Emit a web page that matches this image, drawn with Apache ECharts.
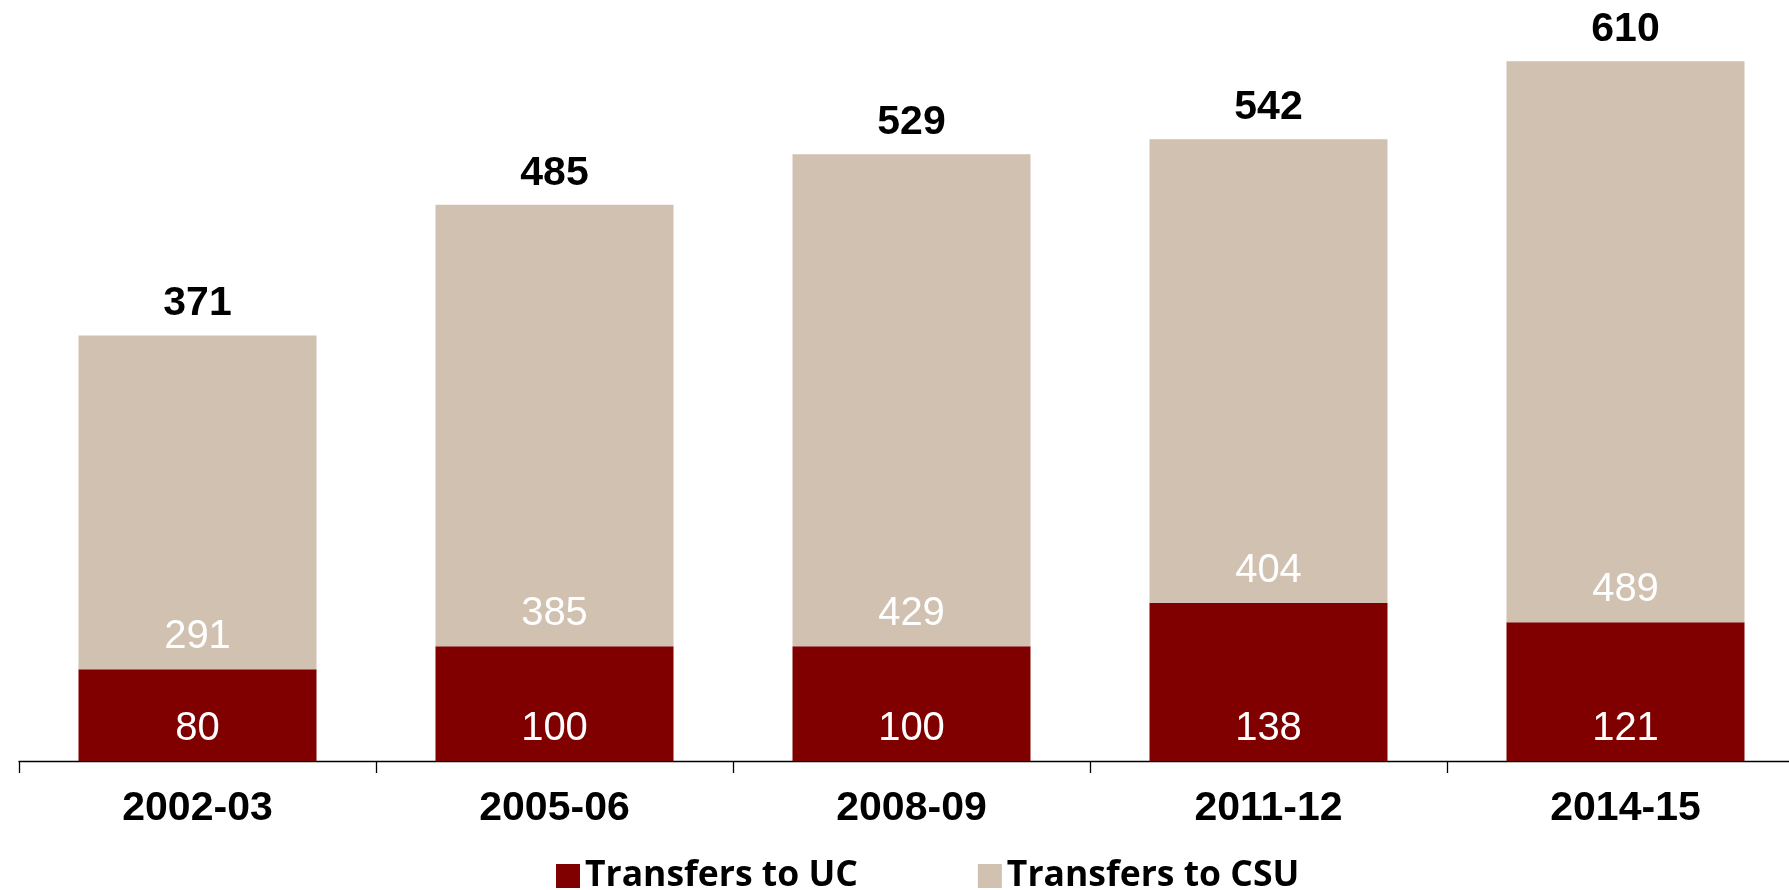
<!DOCTYPE html>
<html>
<head>
<meta charset="utf-8">
<title>Transfers to UC and CSU</title>
<script src="https://cdn.jsdelivr.net/npm/echarts@6/dist/echarts.min.js"></script>
<style>
	html, body { margin: 0; padding: 0; background: #fff; overflow: hidden; }
	#chart { width: 1820px; height: 890px; }
</style>
</head>
<body>
<div id="chart"></div>
<script>
// data
var years = ['2002-03', '2005-06', '2008-09', '2011-12', '2014-15']
var toUC = [80, 100, 100, 138, 121]
var toCSU = [291, 385, 429, 404, 489]
var totals = [371, 485, 529, 542, 610]

var ucColor = '#800000'
var csuColor = '#d1c1b1'

var chart = echarts.init(document.getElementById('chart'))

chart.setOption({
	animation: false,
	textStyle: { fontFamily: 'Liberation Sans, Arial, sans-serif' },
	grid: {
		left: 19,
		top: 4,
		width: 1785,
		height: 757,
		containLabel: false,
	},
	legend: {
		data: ['Transfers to UC', 'Transfers to CSU'],
		left: 551,
		top: 853,
		icon: 'rect',
		itemWidth: 24,
		itemHeight: 24,
		itemGap: 120,
		textStyle: {
			fontFamily: 'Open Sans',
			fontWeight: 'bold',
			fontSize: 35.5,
			color: '#000',
		},
	},
	xAxis: {
		type: 'category',
		data: years,
		boundaryGap: true,
		axisLine: { show: true, lineStyle: { color: '#000', width: 1.3 } },
		axisTick: { show: true, length: 12, lineStyle: { color: '#000', width: 1.3 } },
		axisLabel: {
			margin: 27,
			fontSize: 41,
			fontWeight: 'bold',
			color: '#000',
		},
	},
	yAxis: {
		type: 'value',
		min: 0,
		max: 660,
		show: false,
		splitLine: { show: false },
	},
	series: [
		{
			name: 'Transfers to UC',
			type: 'bar',
			stack: 'total',
			barWidth: 238,
			data: toUC,
			itemStyle: { color: ucColor },
			label: {
				show: true,
				position: 'insideBottom',
				distance: 12,
				color: '#fff',
				fontSize: 40,
			},
		},
		{
			name: 'Transfers to CSU',
			type: 'bar',
			stack: 'total',
			barWidth: 238,
			data: toCSU,
			itemStyle: { color: csuColor },
			label: {
				show: true,
				position: 'insideBottom',
				distance: 12,
				color: '#fff',
				fontSize: 40,
			},
		},
		{
			// totals above each bar
			name: 'Total',
			type: 'scatter',
			data: totals,
			symbolSize: 0,
			itemStyle: { color: '#000' },
			silent: true,
			label: {
				show: true,
				position: 'top',
				distance: 11,
				color: '#000',
				opacity: 1,
				textBorderWidth: 0,
				fontSize: 41,
				fontWeight: 'bold',
			},
		},
	],
})
</script>
</body>
</html>
